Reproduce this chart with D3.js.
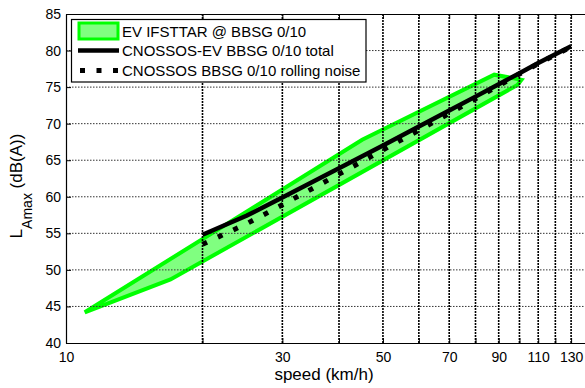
<!DOCTYPE html>
<html>
<head>
<meta charset="utf-8">
<script src="https://cdnjs.cloudflare.com/ajax/libs/d3/7.8.5/d3.min.js"></script>
<style>
  body { margin: 0; background: #fff; }
  text { font-family: "Liberation Sans", Arial, Helvetica, sans-serif; fill: #000; }
</style>
</head>
<body>
<svg id="chart" width="585" height="388"></svg>
<script>
// Axis ticks
const speedTicks = [10, 20, 30, 40, 50, 60, 70, 80, 90, 100, 110, 120, 130];
const speedTickLabels = ["10", "", "30", "", "50", "", "70", "", "90", "", "110", "", "130"];
const levelTicks = [40, 45, 50, 55, 60, 65, 70, 75, 80, 85];

// Measured band (EV IFSTTAR @ BBSG 0/10): upper and lower envelope
const bandUpperSpeed = [11, 45, 88, 101];
const bandUpperLevel = [44.2, 67.8, 76.7, 76.0];
const bandLowerSpeed = [11, 17, 99];
const bandLowerLevel = [44.2, 48.7, 75.3];

// CNOSSOS-EV model curves
const cnossosSpeed = [20, 25, 30, 40, 50, 60, 70, 80, 90, 100, 110, 120, 130];
const totalLevel   = [54.8, 57.4, 59.9, 63.9, 67.0, 69.6, 71.8, 73.7, 75.4, 76.9, 78.3, 79.5, 80.6];
const rollingLevel = [53.5, 56.3, 58.9, 63.1, 66.4, 69.1, 71.4, 73.4, 75.2, 76.8, 78.2, 79.4, 80.5];

const legendLabels = [
  "EV IFSTTAR @ BBSG 0/10",
  "CNOSSOS-EV BBSG 0/10 total",
  "CNOSSOS BBSG 0/10 rolling noise"
];

const svg = d3.select("#chart");
const plotL = 66, plotR = 585.7, plotT = 14, plotB = 343;

const x = d3.scaleLog().domain([10, 140]).range([plotL, plotR]);
const y = d3.scaleLinear().domain([40, 85]).range([plotB, plotT]);

const green = "#00ff00", greenFill = "#80ff80";

// Band polygon: lower edge left→right, then upper edge right→left
const bandPts = bandLowerSpeed.map((s, i) => [x(s), y(bandLowerLevel[i])])
  .concat(bandUpperSpeed.map((s, i) => [x(s), y(bandUpperLevel[i])]).reverse());
svg.append("path")
  .attr("d", d3.line()(bandPts) + "Z")
  .attr("fill", greenFill)
  .attr("stroke", green)
  .attr("stroke-width", 4)
  .attr("stroke-linejoin", "miter");

// Grid
const grid = svg.append("g");
grid.selectAll(".hg").data(levelTicks.slice(1, -1)).join("line")
  .attr("x1", plotL).attr("x2", plotR)
  .attr("y1", d => y(d)).attr("y2", d => y(d))
  .attr("stroke", "#333").attr("stroke-width", 1)
  .attr("stroke-dasharray", "1.5,1.5");
grid.selectAll(".vg").data(speedTicks.slice(1)).join("line")
  .attr("x1", d => x(d)).attr("x2", d => x(d))
  .attr("y1", plotT).attr("y2", plotB)
  .attr("stroke", "#000").attr("stroke-width", 1.6)
  .attr("stroke-dasharray", "2,1");

// Model curves
const line = d3.line().x(d => x(d[0])).y(d => y(d[1]));
svg.append("path")
  .attr("d", line(cnossosSpeed.map((s, i) => [s, totalLevel[i]])))
  .attr("fill", "none").attr("stroke", "#000").attr("stroke-width", 4.5)
  .attr("stroke-linejoin", "round");
svg.append("path")
  .attr("d", line(cnossosSpeed.map((s, i) => [s, rollingLevel[i]])))
  .attr("fill", "none").attr("stroke", "#000").attr("stroke-width", 5)
  .attr("stroke-dasharray", "5,12");

// Axes
const xAxis = d3.axisBottom(x).tickValues(speedTicks)
  .tickFormat((d, i) => speedTickLabels[i])
  .tickSizeInner(-5).tickSizeOuter(0).tickPadding(9);
const gx = svg.append("g").attr("transform", `translate(0,${plotB})`).call(xAxis);

const xTop = d3.axisTop(x).tickValues(speedTicks).tickFormat("")
  .tickSizeInner(-5).tickSizeOuter(0);
const gxt = svg.append("g").attr("transform", `translate(0,${plotT})`).call(xTop);

const yAxis = d3.axisLeft(y).tickValues(levelTicks)
  .tickSizeInner(-5).tickSizeOuter(0).tickPadding(5);
const gy = svg.append("g").attr("transform", `translate(${plotL},0)`).call(yAxis);

[gx, gxt, gy].forEach(g => {
  g.selectAll("path.domain").attr("stroke", "#000").attr("stroke-width", 1.2);
  g.selectAll(".tick line").attr("stroke", "#000");
  g.selectAll(".tick text").style("font-family", '"Liberation Sans", Arial, sans-serif')
    .style("font-size", "14px").attr("fill", "#000");
});

// Axis titles
svg.append("text")
  .attr("x", 324).attr("y", 380)
  .attr("text-anchor", "middle")
  .style("font-size", "17px")
  .text("speed (km/h)");

const yl = svg.append("text")
  .attr("transform", "translate(22,186) rotate(-90)")
  .attr("text-anchor", "middle")
  .style("font-size", "17px");
yl.append("tspan").text("L");
yl.append("tspan").attr("dy", 10).style("font-size", "14px").text("Amax");
yl.append("tspan").attr("dy", -10).text(" (dB(A))");

// Legend
const lg = svg.append("g");
lg.append("rect")
  .attr("x", 71.5).attr("y", 19.5).attr("width", 294.5).attr("height", 62.5)
  .attr("fill", "#fff").attr("stroke", "#000").attr("stroke-width", 1.2);
const rowY = [31, 50.5, 70.5];
lg.append("rect")
  .attr("x", 79).attr("y", rowY[0] - 8).attr("width", 39).attr("height", 16)
  .attr("fill", greenFill).attr("stroke", green).attr("stroke-width", 3);
lg.append("line")
  .attr("x1", 78).attr("x2", 119).attr("y1", rowY[1]).attr("y2", rowY[1])
  .attr("stroke", "#000").attr("stroke-width", 4.5);
lg.append("line")
  .attr("x1", 80).attr("x2", 120).attr("y1", rowY[2]).attr("y2", rowY[2])
  .attr("stroke", "#000").attr("stroke-width", 5)
  .attr("stroke-dasharray", "5,11.5");
lg.selectAll("text.lbl").data(legendLabels).join("text")
  .attr("class", "lbl")
  .attr("x", 122).attr("y", (d, i) => rowY[i] + 5.5)
  .style("font-size", "15px")
  .text(d => d);
</script>
</body>
</html>
